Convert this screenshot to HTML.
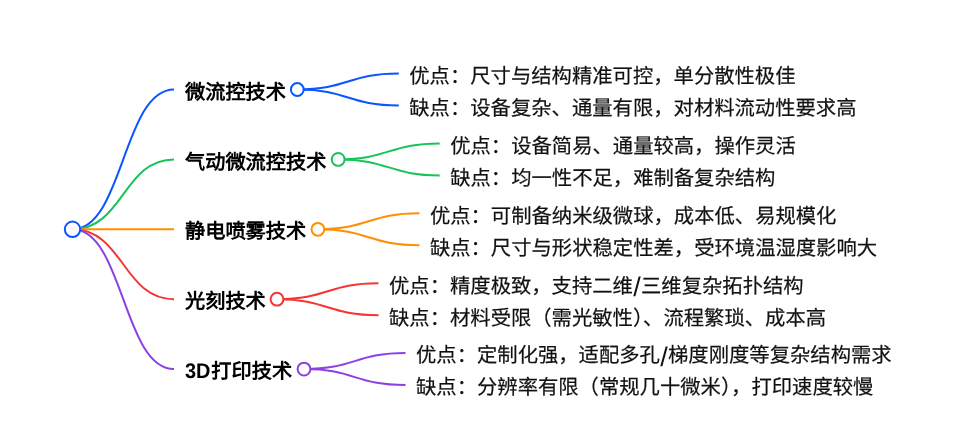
<!DOCTYPE html>
<html lang="zh-CN"><head><meta charset="utf-8"><title>mind map</title><style>
html,body{margin:0;padding:0;background:#fff;width:955px;height:446px;overflow:hidden}
svg{position:absolute;left:0;top:0;font-family:"Liberation Sans",sans-serif;text-rendering:geometricPrecision;will-change:transform}
</style></head><body>
<svg width="955" height="446" viewBox="0 0 955 446">
<g fill="none" stroke-width="2" stroke-linecap="butt">
<path d="M72.5,229.3C123.25,229.3 123.25,89.5 174,89.5" stroke="#0a55ff"/>
<path d="M72.5,229.3C123.25,229.3 123.25,159.4 174,159.4" stroke="#17c458"/>
<path d="M72.5,229.3C123.25,229.3 123.25,229.3 174,229.3" stroke="#ff8f00"/>
<path d="M72.5,229.3C123.25,229.3 123.25,299.2 174,299.2" stroke="#f43535"/>
<path d="M72.5,229.3C123.25,229.3 123.25,369.1 174,369.1" stroke="#8c41e2"/>
<path d="M297.3,89.5C348.05,89.5 348.05,73.5 398.8,73.5" stroke="#0a55ff"/>
<path d="M297.3,89.5C348.05,89.5 348.05,105.5 398.8,105.5" stroke="#0a55ff"/>
<path d="M338.2,159.4C388.95,159.4 388.95,143.4 439.7,143.4" stroke="#17c458"/>
<path d="M338.2,159.4C388.95,159.4 388.95,175.4 439.7,175.4" stroke="#17c458"/>
<path d="M317.9,229.3C368.65,229.3 368.65,213.3 419.4,213.3" stroke="#ff8f00"/>
<path d="M317.9,229.3C368.65,229.3 368.65,245.3 419.4,245.3" stroke="#ff8f00"/>
<path d="M277,299.2C327.75,299.2 327.75,283.2 378.5,283.2" stroke="#f43535"/>
<path d="M277,299.2C327.75,299.2 327.75,315.2 378.5,315.2" stroke="#f43535"/>
<path d="M304,369.1C354.75,369.1 354.75,353.1 405.5,353.1" stroke="#8c41e2"/>
<path d="M304,369.1C354.75,369.1 354.75,385.1 405.5,385.1" stroke="#8c41e2"/>
</g>
<g fill="#fff" stroke-width="2">
<circle cx="297.3" cy="89.5" r="6.4" stroke="#0a55ff"/>
<circle cx="338.2" cy="159.4" r="6.4" stroke="#17c458"/>
<circle cx="317.9" cy="229.3" r="6.4" stroke="#ff8f00"/>
<circle cx="277" cy="299.2" r="6.4" stroke="#f43535"/>
<circle cx="304" cy="369.1" r="6.4" stroke="#8c41e2"/>
<circle cx="72.5" cy="229.3" r="7.7" stroke="#0a55ff"/>
</g>
<g>
<text x="409.30" y="82.85" font-size="20.34" fill="#111" stroke="#111" stroke-width="0.2">优点：尺寸与结构精准可控，单分散性极佳</text>
<text x="409.30" y="114.85" font-size="20.34" fill="#111" stroke="#111" stroke-width="0.2">缺点：设备复杂、通量有限，对材料流动性要求高</text>
<text x="185.00" y="98.60" font-size="20.2" font-weight="bold" fill="#000">微流控技术</text>
<text x="450.20" y="152.75" font-size="20.34" fill="#111" stroke="#111" stroke-width="0.2">优点：设备简易、通量较高，操作灵活</text>
<text x="450.20" y="184.75" font-size="20.34" fill="#111" stroke="#111" stroke-width="0.2">缺点：均一性不足，难制备复杂结构</text>
<text x="185.00" y="168.50" font-size="20.2" font-weight="bold" fill="#000">气动微流控技术</text>
<text x="429.90" y="222.65" font-size="20.34" fill="#111" stroke="#111" stroke-width="0.2">优点：可制备纳米级微球，成本低、易规模化</text>
<text x="429.90" y="254.65" font-size="20.34" fill="#111" stroke="#111" stroke-width="0.2">缺点：尺寸与形状稳定性差，受环境温湿度影响大</text>
<text x="185.00" y="238.40" font-size="20.2" font-weight="bold" fill="#000">静电喷雾技术</text>
<text x="389.00" y="292.55" font-size="20.34" fill="#111" stroke="#111" stroke-width="0.2">优点：精度极致，支持二维</text>
<text x="633.30" y="295.93" font-size="26.93" fill="#111">/</text>
<text x="641.05" y="292.55" font-size="20.34" fill="#111" stroke="#111" stroke-width="0.2">三维复杂拓扑结构</text>
<text x="389.00" y="324.55" font-size="20.34" fill="#111" stroke="#111" stroke-width="0.2">缺点：材料受限（需光敏性）、流程繁琐、成本高</text>
<text x="185.00" y="308.30" font-size="20.2" font-weight="bold" fill="#000">光刻技术</text>
<text x="416.00" y="362.45" font-size="20.34" fill="#111" stroke="#111" stroke-width="0.2">优点：定制化强，适配多孔</text>
<text x="660.30" y="365.83" font-size="26.93" fill="#111">/</text>
<text x="668.05" y="362.45" font-size="20.34" fill="#111" stroke="#111" stroke-width="0.2">梯度刚度等复杂结构需求</text>
<text x="416.00" y="394.45" font-size="20.34" fill="#111" stroke="#111" stroke-width="0.2">缺点：分辨率有限（常规几十微米），打印速度较慢</text>
<text x="185.00" y="378.20" font-size="21.21" font-weight="bold" fill="#000" textLength="25.44" lengthAdjust="spacingAndGlyphs">3D</text>
<text x="211.34" y="378.20" font-size="20.2" font-weight="bold" fill="#000">打印技术</text>
</g>
</svg>
</body></html>
